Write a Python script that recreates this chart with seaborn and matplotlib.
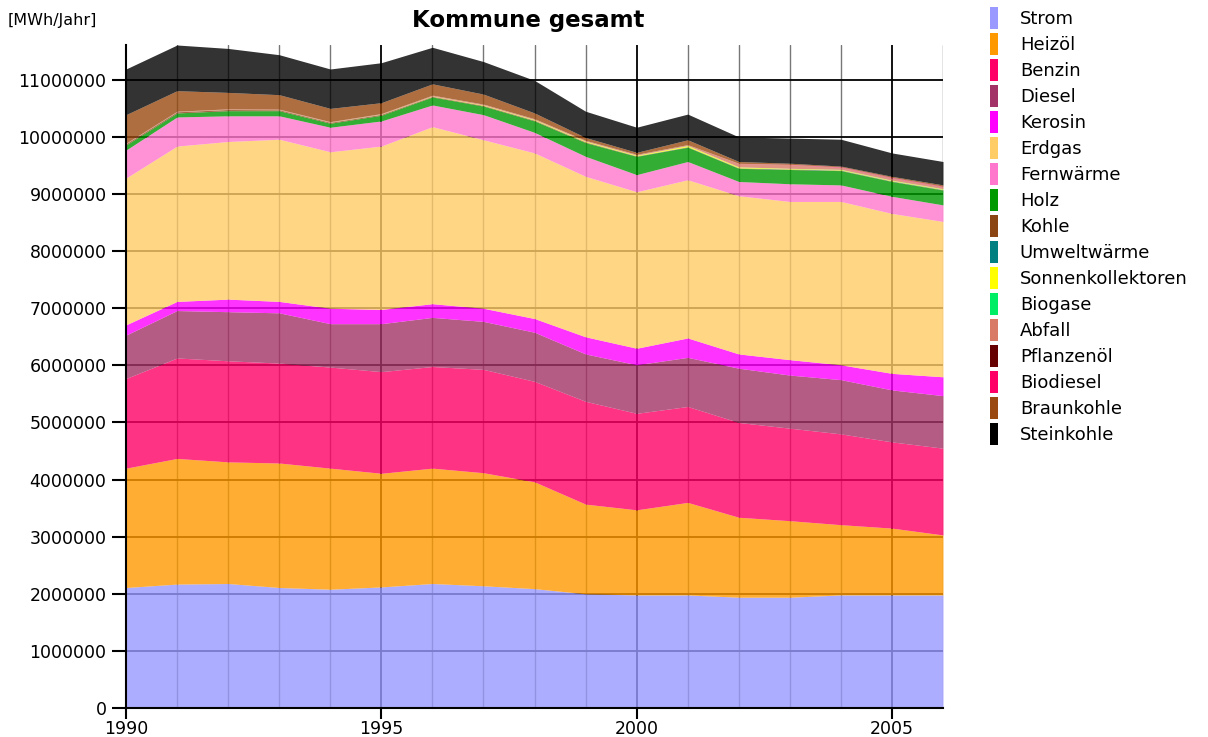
import pandas as pd
import seaborn as sns
import matplotlib.pyplot as plt
from matplotlib.patches import Patch
from matplotlib.ticker import MultipleLocator, FuncFormatter

# Energieverbrauch Kommune gesamt [MWh/Jahr], 1990 - 2006
years = list(range(1990, 2007))

strom = [2110000, 2170000, 2180000, 2110000, 2080000, 2120000, 2180000, 2140000, 2090000,
         2000000, 1980000, 1980000, 1940000, 1940000, 1980000, 1980000, 1980000]
heizoel = [2090000, 2200000, 2130000, 2180000, 2120000, 1990000, 2020000, 1980000, 1870000,
           1570000, 1490000, 1620000, 1400000, 1340000, 1230000, 1170000, 1050000]
benzin = [1570000, 1760000, 1770000, 1750000, 1770000, 1780000, 1780000, 1810000, 1760000,
          1800000, 1690000, 1680000, 1660000, 1620000, 1590000, 1510000, 1520000]
diesel = [760000, 830000, 860000, 880000, 760000, 840000, 860000, 840000, 860000,
          830000, 850000, 860000, 950000, 930000, 950000, 910000, 920000]
kerosin = [180000, 160000, 220000, 200000, 270000, 250000, 240000, 230000, 240000,
           300000, 290000, 340000, 250000, 270000, 260000, 290000, 330000]
erdgas = [2570000, 2720000, 2760000, 2840000, 2740000, 2860000, 3100000, 2950000, 2900000,
          2810000, 2740000, 2770000, 2770000, 2770000, 2860000, 2800000, 2720000]
fernwaerme = [490000, 510000, 450000, 410000, 430000, 440000, 380000, 440000, 360000,
              350000, 300000, 320000, 250000, 310000, 290000, 300000, 290000]
holz = [90000, 70000, 90000, 90000, 70000, 100000, 140000, 150000, 200000,
        240000, 320000, 250000, 230000, 250000, 250000, 260000, 260000]
kohle = [20000, 20000, 20000, 15000, 15000, 15000, 10000, 10000, 10000,
         10000, 5000, 5000, 5000, 5000, 5000, 5000, 5000]
umweltwaerme = [1000, 1000, 1000, 1000, 1000, 2000, 2000, 2000, 3000,
                3000, 3000, 4000, 4000, 4000, 5000, 5000, 5000]
sonnenkollektoren = [0, 0, 1000, 1000, 2000, 3000, 5000, 8000, 10000,
                     12000, 12000, 20000, 15000, 10000, 10000, 10000, 10000]
biogase = [0, 0, 0, 0, 0, 0, 0, 0, 1000, 1000, 1000, 2000, 2000, 2000, 3000, 3000, 3000]
abfall = [10000, 10000, 10000, 10000, 10000, 10000, 15000, 15000, 15000,
          15000, 15000, 15000, 60000, 65000, 35000, 40000, 35000]
pflanzenoel = [0, 0, 0, 0, 0, 0, 0, 0, 0, 0, 0, 0, 0, 0, 1000, 2000, 2000]
biodiesel = [0, 0, 0, 0, 0, 0, 0, 0, 0, 0, 0, 0, 2000, 5000, 8000, 8000, 8000]
braunkohle = [499000, 359000, 288000, 253000, 232000, 190000, 198000, 175000, 101000,
              49000, 34000, 84000, 32000, 19000, 13000, 17000, 22000]
steinkohle = [800000, 800000, 770000, 700000, 690000, 700000, 640000, 570000, 570000,
              460000, 440000, 450000, 430000, 440000, 470000, 410000, 410000]

labels = ["Strom", "Heizöl", "Benzin", "Diesel", "Kerosin", "Erdgas", "Fernwärme", "Holz",
          "Kohle", "Umweltwärme", "Sonnenkollektoren", "Biogase", "Abfall", "Pflanzenöl",
          "Biodiesel", "Braunkohle", "Steinkohle"]
colors = ["#9999ff", "#ff9900", "#ff0066", "#a33366", "#ff00ff", "#ffcc66", "#ff77cc", "#009900",
          "#8b4513", "#008080", "#ffff00", "#00ee66", "#d97a66", "#660000",
          "#ff0066", "#9a4a10", "#000000"]

df = pd.DataFrame(dict(zip(labels, [strom, heizoel, benzin, diesel, kerosin, erdgas, fernwaerme,
                                    holz, kohle, umweltwaerme, sonnenkollektoren, biogase, abfall,
                                    pflanzenoel, biodiesel, braunkohle, steinkohle])), index=years)

sns.set_theme(style="white")
plt.rcParams['font.family'] = ['DejaVu Sans']
plt.rcParams['text.color'] = 'black'
plt.rcParams['xtick.color'] = 'black'
plt.rcParams['ytick.color'] = 'black'

fig = plt.figure(figsize=(12.08, 7.37), dpi=100)
ax = fig.add_axes([126 / 1208, 1 - 708 / 737, 817 / 1208, 663 / 737])

ax.stackplot(df.index, df.T.values, colors=colors, alpha=0.8, linewidth=0)

ax.set_xlim(1990, 2006)
ax.set_ylim(0, 11610000)
ax.set_xticks([1990, 1995, 2000, 2005])
ax.xaxis.set_minor_locator(MultipleLocator(1))
ax.set_yticks(range(0, 12000000, 1000000))
ax.yaxis.set_major_formatter(FuncFormatter(lambda v, p: "%d" % v))

# Gitter liegt unter den halbtransparenten Flaechen
ax.set_axisbelow(True)
ax.grid(which='major', axis='x', color='black', lw=1.3)
ax.grid(which='minor', axis='x', color='#777777', lw=1)
ax.grid(which='major', axis='y', color='black', lw=1.3)

for s in ['top', 'right']:
    ax.spines[s].set_visible(False)
for s in ['left', 'bottom']:
    ax.spines[s].set_color('black')
    ax.spines[s].set_linewidth(1.5)

ax.tick_params(axis='x', which='major', bottom=True, length=8, width=1.5,
               labelsize=12.5, pad=1)
ax.tick_params(axis='x', which='minor', length=0)
ax.tick_params(axis='y', left=True, length=10, width=1.5, labelsize=12.5, pad=4)

fig.text(528 / 1208, 1 - 20 / 737, "Kommune gesamt", ha='center', va='center',
         fontsize=16.5, fontweight='bold')
fig.text(8 / 1208, 1 - 20 / 737, "[MWh/Jahr]", ha='left', va='center', fontsize=11.5)

handles = [Patch(facecolor=c, edgecolor='none') for c in colors]
fig.legend(handles, labels, loc='upper left', bbox_to_anchor=(990 / 1208, 1 - 7 / 737),
           frameon=False, fontsize=13, handlelength=0.45, handleheight=1.5,
           handletextpad=1.2, labelspacing=0.22, borderaxespad=0, borderpad=0)

plt.savefig('out.png', dpi=100)
